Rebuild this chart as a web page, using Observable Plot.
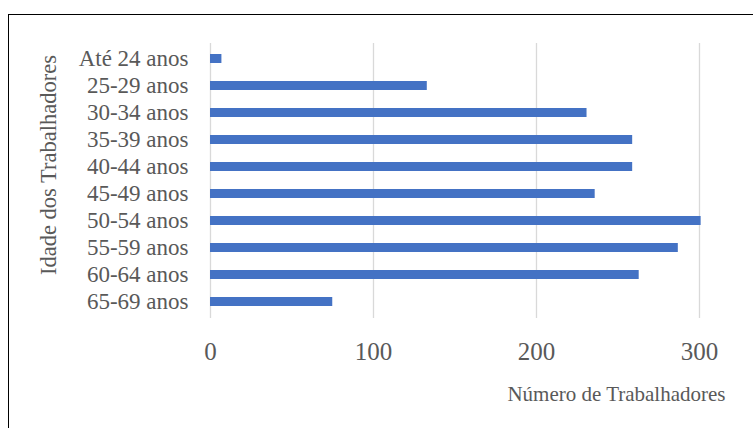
<!DOCTYPE html>
<html>
<head>
<meta charset="utf-8">
<script src="https://cdn.jsdelivr.net/npm/d3@7"></script>
<script src="https://cdn.jsdelivr.net/npm/@observablehq/plot@0.6"></script>
<style>
  html, body { margin: 0; padding: 0; background: #fff; overflow: hidden; }
  #wrap { position: relative; width: 753px; height: 428px; overflow: hidden; }
  #border { position: absolute; left: 8px; top: 14px; width: 800px; height: 500px;
            border: 1.5px solid #000; box-sizing: border-box; pointer-events: none; }
  #chart { position: absolute; left: 0; top: 0; }
  #chart svg, #chart svg text { font-family: "Liberation Serif", "Times New Roman", serif !important; }
</style>
</head>
<body>
<div id="wrap">
  <div id="chart"></div>
  <div id="border"></div>
</div>
<script>
// Faixas etárias e número de trabalhadores em cada uma
const faixas = ["Até 24 anos", "25-29 anos", "30-34 anos", "35-39 anos", "40-44 anos",
                "45-49 anos", "50-54 anos", "55-59 anos", "60-64 anos", "65-69 anos"];
const trabalhadores = [7, 133, 231, 259, 259, 236, 301, 287, 263, 75];
const ticksX = [0, 100, 200, 300];
const tituloX = "Número de Trabalhadores";
const tituloY = "Idade dos Trabalhadores";

const dados = faixas.map((f, i) => ({faixa: f, n: trabalhadores[i]}));

const cinza = "#595959";
const fonte = "'Liberation Serif', 'Times New Roman', serif";

// Barras com intervalo de 65% entre categorias e meio intervalo nas pontas
const folga = 0.655;

const chart = Plot.plot({
  width: 753,
  height: 428,
  marginLeft: 210,
  marginRight: 54,
  marginTop: 43,
  marginBottom: 110,
  style: {color: cinza, background: "transparent"},
  x: {domain: [0, 300]},
  y: {domain: faixas, paddingInner: folga, paddingOuter: folga / 2},
  marks: [
    Plot.gridX(ticksX, {stroke: "#d9d9d9", strokeOpacity: 1, strokeWidth: 1.3}),
    Plot.barX(dados, {x: "n", y: "faixa", fill: "#4472c4"}),
    Plot.axisX(ticksX, {tickSize: 0, tickPadding: 24, fontSize: 25, fill: cinza,
                        label: null, tickFormat: d => String(d)}),
    Plot.axisY({tickSize: 0, tickPadding: 22, fontSize: 23, fill: cinza, label: null}),
    Plot.text([tituloX], {frameAnchor: "bottom-right", text: d => d, textAnchor: "end",
                          lineAnchor: "middle", dx: 26, dy: 76, fontSize: 21, fill: cinza}),
    Plot.text([tituloY], {frameAnchor: "left", text: d => d, rotate: -90,
                          textAnchor: "middle", lineAnchor: "middle",
                          dx: -162, dy: -16, fontSize: 22.5, fill: cinza})
  ]
});

chart.querySelectorAll("text").forEach(t => t.setAttribute("font-family", fonte));
document.getElementById("chart").appendChild(chart);
</script>
</body>
</html>
